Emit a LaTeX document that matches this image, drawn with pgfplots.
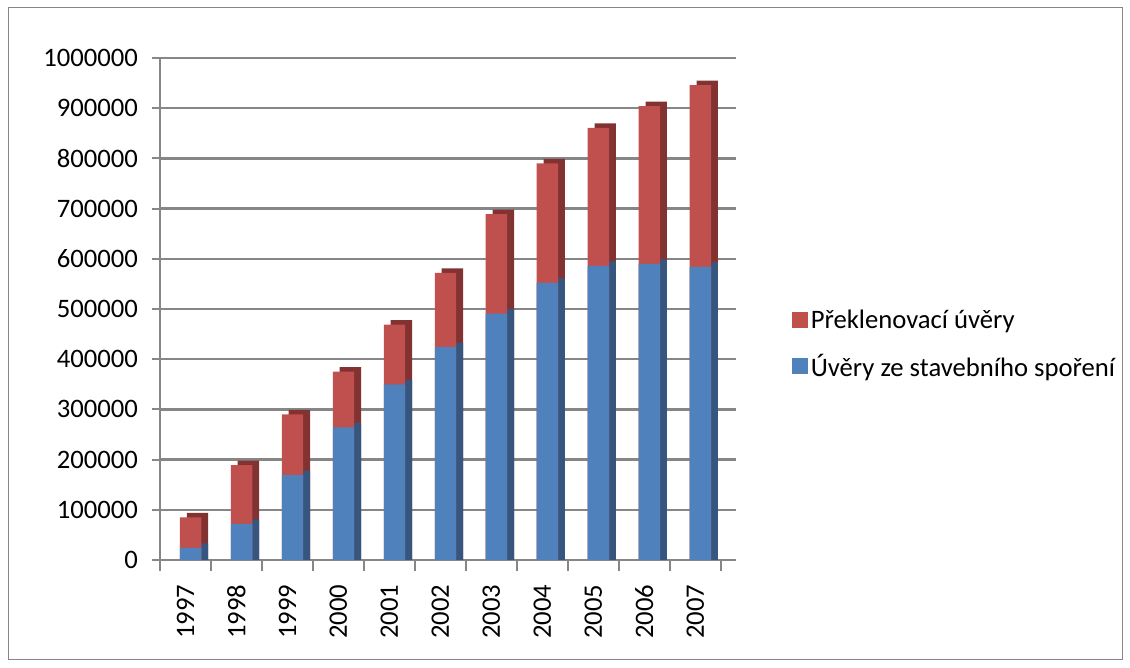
\documentclass[border=0pt]{standalone}
\usepackage{pgfplots}
\pgfplotsset{compat=1.18}
\usepackage{pgfplotstable}
\usepackage{fontspec}
\setmainfont{Carlito}
\definecolor{cred}{HTML}{C0504D}
\definecolor{cblue}{HTML}{4F81BD}
\definecolor{dred}{HTML}{833232}
\definecolor{dblue}{HTML}{36557F}
\definecolor{gridc}{HTML}{868686}

\pgfplotstableread{
x year blue red total
0 1997 24000 61000 85000
1 1998 72000 117000 189000
2 1999 169000 121000 290000
3 2000 264000 111000 375000
4 2001 350000 119000 469000
5 2002 424000 148000 572000
6 2003 491000 198000 689000
7 2004 552000 238000 790000
8 2005 586000 275000 861000
9 2006 590000 314000 904000
10 2007 584000 362000 946000
}\data

\begin{document}
\begin{tikzpicture}
\path[use as bounding box] (0pt,0pt) rectangle (847.5pt,500.25pt);
\draw[gridc, line width=0.75pt] (6pt,6pt) rectangle (841.5pt,494.25pt);
\begin{axis}[
  at={(120pt,80.25pt)}, anchor=south west,
  scale only axis, width=432pt, height=376.5pt,
  xmin=-0.5, xmax=10.8, ymin=0, ymax=1000000,
  ybar, bar width=0.42,
  ytick={0,100000,...,1000000},
  scaled y ticks=false,
  yticklabel style={/pgf/number format/fixed, /pgf/number format/1000 sep={}},
  /pgf/number format/assume math mode=true,
  ymajorgrids, grid style={gridc, line width=1.8pt},
  axis x line*=bottom, axis y line*=left,
  x axis line style={-}, y axis line style={-},
  axis line style={gridc, line width=1.8pt},
  xtick={0,...,10},
  xticklabels={1997,1998,1999,2000,2001,2002,2003,2004,2005,2006,2007},
  major x tick style={draw=none},
  minor xtick={-0.5,0.5,...,10.5},
  minor x tick style={gridc, line width=1.5pt},
  major y tick style={gridc, line width=1.5pt},
  tick align=outside, major tick length=6pt, minor tick length=8pt,
  ticklabel style={font=\fontsize{20}{24}\selectfont, text=black},
  xticklabel style={rotate=90, anchor=east, xshift=-9pt},
  yticklabel style={xshift=-7pt},
  legend style={at={(1.09,0.43)}, anchor=west, draw=none, fill=none,
    font=\fontsize{20}{24}\selectfont, row sep=14pt, legend cell align=left},
  legend image code/.code={\fill[#1] (0pt,-6pt) rectangle (12pt,6pt);},
]
\addplot[draw=none, fill=dred, bar shift=0.235, forget plot] table[x=x, y expr=\thisrow{total}+9000] {\data};
\addplot[draw=none, fill=dblue, bar shift=0.235, forget plot] table[x=x, y expr=\thisrow{blue}+9000] {\data};
\addplot[draw=none, fill=cred, bar shift=0.1] table[x=x, y=total] {\data};
\addlegendentry{Překlenovací úvěry}
\addplot[draw=none, fill=cblue, bar shift=0.1] table[x=x, y=blue] {\data};
\addlegendentry{Úvěry ze stavebního spoření}
\end{axis}
\end{tikzpicture}
\end{document}
